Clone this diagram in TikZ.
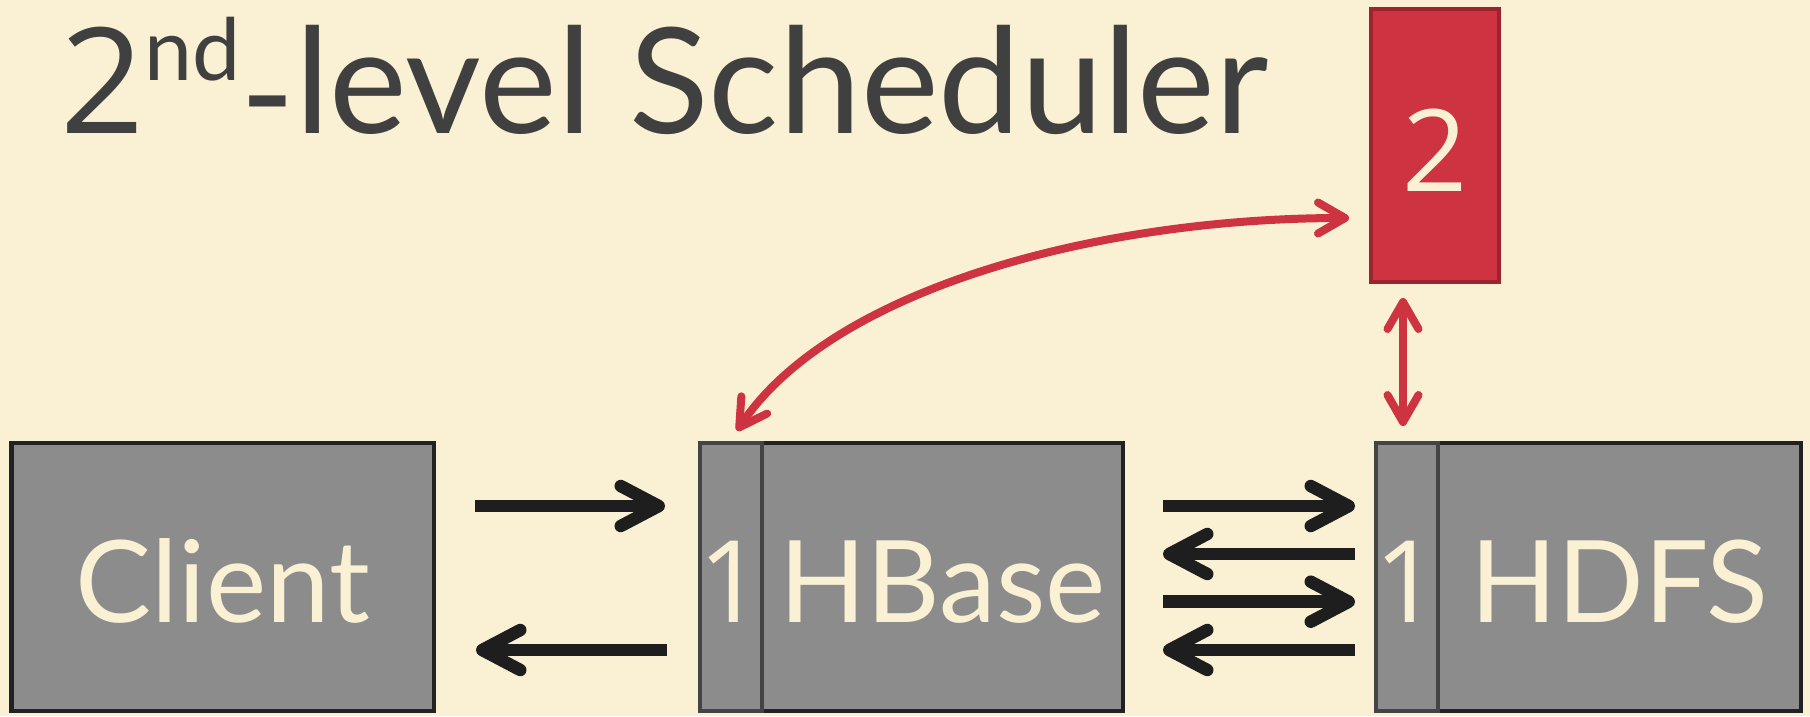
\documentclass[tikz,border=0pt]{standalone}
\usepackage{fontspec}
\setmainfont{Lato}
\newfontfamily\digitfont{Open Sans}
\usetikzlibrary{arrows.meta}

\definecolor{paper}{RGB}{250,240,211}
\definecolor{boxfill}{RGB}{140,140,140}
\definecolor{boxline}{RGB}{34,34,34}
\definecolor{sectline}{RGB}{68,68,68}
\definecolor{ink}{RGB}{64,64,64}
\definecolor{schedred}{RGB}{205,51,64}
\definecolor{schedline}{RGB}{155,36,48}
\definecolor{arrowink}{RGB}{30,30,30}

\newcommand\lblfont{\fontsize{114}{114}\selectfont}
\newcommand\ttlfont{\fontsize{147}{147}\selectfont}

\begin{document}
\begin{tikzpicture}[x=1pt,y=-1pt,
  box/.style={draw=boxline, fill=boxfill, line width=4.5pt, inner sep=0pt,
    outer sep=0pt, text=paper, font=\lblfont, text height=90pt, text depth=0pt,
    minimum height=268pt},
  sect/.style={box, draw=sectline, font=\lblfont\digitfont},
  schedbox/.style={box, draw=schedline, fill=schedred, line width=4pt, font=\lblfont\digitfont},
  blk/.style={draw=arrowink, line width=12.5pt,
    -{Straight Barb[length=38pt,width=40pt,round]}},
  redarr/.style={draw=schedred, line width=8pt,
    {Straight Barb[length=27pt,width=31pt,round]}-{Straight Barb[length=27pt,width=31pt,round]}}
]
% page
\fill[paper] (0,0) rectangle (1810,716);
\useasboundingbox (0,0) rectangle (1810,716);

% title
\node[anchor=base west, inner sep=0pt, text=ink, font=\ttlfont] (title) at (60,133)
  {{\digitfont 2}\raisebox{53pt}{\fontsize{86}{86}\selectfont nd}\raisebox{-12pt}{-}level Scheduler};

% components
\node[box, minimum width=422.5pt] (client) at (222.75,577) {Client};
\node[box, minimum width=361pt] (hbase) at (942.5,577) {HBase};
\node[sect, minimum width=62pt] (hb1) at (731,577) {\makebox[0pt]{1}};
\node[box, minimum width=363pt] (hdfs) at (1619.5,577) {HDFS};
\node[sect, minimum width=62pt] (hd1) at (1407,577) {\makebox[0pt]{1}};
\node[schedbox, minimum width=128pt, minimum height=273pt, text height=91pt] (sched) at (1435,145.5) {2};

% message rows
\coordinate (r1) at (0,506);
\coordinate (r2) at (0,554);
\coordinate (r3) at (0,601.7);
\coordinate (r4) at (0,650);
\coordinate (vx) at (1403,0);

% client <-> hbase
\draw[blk, shorten <=41pt, shorten >=35pt] (client.east |- r1) -- (hb1.west |- r1);
\draw[blk, shorten <=33pt, shorten >=42pt] (hb1.west |- r4) -- (client.east |- r4);

% hbase <-> hdfs
\draw[blk, shorten <=40pt, shorten >=21pt] (hbase.east |- r1) -- (hd1.west |- r1);
\draw[blk, shorten <=21pt, shorten >=40pt] (hd1.west |- r2) -- (hbase.east |- r2);
\draw[blk, shorten <=40pt, shorten >=21pt] (hbase.east |- r3) -- (hd1.west |- r3);
\draw[blk, shorten <=21pt, shorten >=40pt] (hd1.west |- r4) -- (hbase.east |- r4);

% scheduler links
\draw[redarr, shorten <=16pt, shorten >=17pt] (sched.south -| vx) -- (hd1.north -| vx);
\draw[redarr] ([shift={(6,-12.3)}]hb1.north) .. controls +(95,-142) and +(-250,0) .. ([shift={(-22,72.5)}]sched.west);
\end{tikzpicture}
\end{document}
